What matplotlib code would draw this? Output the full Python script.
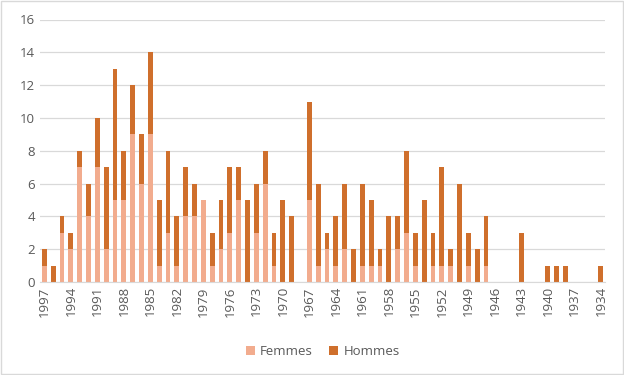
import matplotlib.pyplot as plt
import numpy as np

years = list(range(1997, 1933, -1))
femmes = [1, 0, 3, 2, 7, 4, 7, 2, 5, 5, 9, 6, 9, 1, 3, 1, 4, 4,
          5, 1, 2, 3, 5, 0, 3, 6, 1, 0, 0, 0, 5, 1, 2, 1, 2,
          0, 1, 1, 1, 0, 2, 3, 1, 0, 1, 1, 1, 0, 1, 0, 1,
          0, 0, 0, 0, 0, 0, 0, 0, 0, 0, 0, 0, 0]
hommes = [1, 1, 1, 1, 1, 2, 3, 5, 8, 3, 3, 3, 5, 4, 5, 3, 3, 2,
          0, 2, 3, 4, 2, 5, 3, 2, 2, 5, 4, 0, 6, 5, 1, 3, 4,
          2, 5, 4, 1, 4, 2, 5, 2, 5, 2, 6, 1, 6, 2, 2, 3,
          0, 0, 0, 3, 0, 0, 1, 1, 1, 0, 0, 0, 1]

LIGHT, DARK = "#F2AC8E", "#CF6F2C"
GRID, TXT = "#d9d9d9", "#595959"

plt.rcParams.update({"font.family": "Open Sans", "font.size": 9.5})

fig = plt.figure(figsize=(6.24, 3.75), dpi=100)
ax = fig.add_axes([0.064, 0.248, 0.906, 0.70])

x = np.arange(len(years))
ax.bar(x, femmes, 0.55, color=LIGHT, label="Femmes", zorder=2)
ax.bar(x, hommes, 0.55, bottom=femmes, color=DARK, label="Hommes", zorder=2)

ax.set_xlim(-0.5, len(years) - 0.5)
ax.set_ylim(0, 16)
ax.set_yticks(range(0, 17, 2))
ax.set_xticks(x[::3])
ax.set_xticklabels([str(y) for y in years[::3]], rotation=90)
ax.grid(axis="y", color=GRID, linewidth=0.9, zorder=0)
ax.set_axisbelow(True)
for s in ("top", "right", "left"):
    ax.spines[s].set_visible(False)
ax.spines["bottom"].set_color(GRID)
ax.tick_params(length=0, colors=TXT, labelsize=9.5)
ax.tick_params(axis="x", pad=3)

ax.legend(loc="center", bbox_to_anchor=(0.5, -0.265), ncol=2, frameon=False,
          handlelength=0.7, handleheight=0.7, columnspacing=1.2,
          handletextpad=0.4, labelcolor=TXT)

fig.patches.append(plt.Rectangle((0.001, 0.002), 0.997, 0.995, transform=fig.transFigure,
                                 fill=False, edgecolor="#d9d9d9", linewidth=1))
fig.savefig("out.png", dpi=100)
